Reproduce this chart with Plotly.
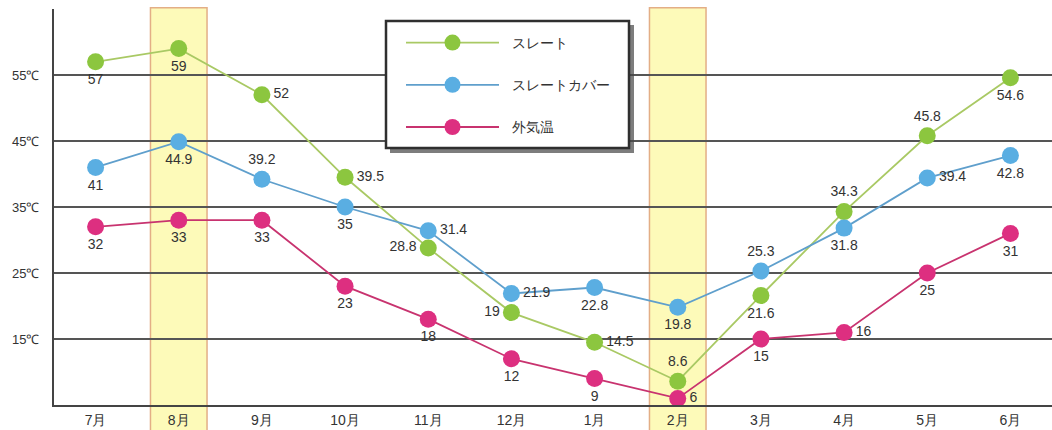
import plotly.graph_objects as go

months = ["7月", "8月", "9月", "10月", "11月", "12月", "1月", "2月", "3月", "4月", "5月", "6月"]
slate = [57, 59, 52, 39.5, 28.8, 19, 14.5, 8.6, 21.6, 34.3, 45.8, 54.6]
cover = [41, 44.9, 39.2, 35, 31.4, 21.9, 22.8, 19.8, 25.3, 31.8, 39.4, 42.8]
outside = [32, 33, 33, 23, 18, 12, 9, 6, 15, 16, 25, 31]
highlight = ["8月", "2月"]
ytick_vals = [15, 25, 35, 45, 55]
ytick_text = ["15℃", "25℃", "35℃", "45℃", "55℃"]

slate_pos = ["bottom center", "bottom center", "middle right", "middle right", "middle left",
             "middle left", "middle right", "top center", "bottom center", "top center",
             "top center", "bottom center"]
cover_pos = ["bottom center", "bottom center", "top center", "bottom center", "middle right",
             "middle right", "bottom center", "bottom center", "top center", "bottom center",
             "middle right", "bottom center"]
outside_pos = ["bottom center"] * 7 + ["middle right", "bottom center", "middle right",
                                        "bottom center", "bottom center"]

FONT = "Liberation Sans, Arial, sans-serif"
TXT = "#333333"

# plot-area geometry (pixels) used to place the legend frame
L, T, W, H = 54, 9, 998, 396


def px(xp):
    return (xp - L) / W


def py(yp):
    return (T + H - yp) / H


fig = go.Figure()

series = [
    ("スレート", slate, slate_pos, "#8cc63f", "#a9c964"),
    ("スレートカバー", cover, cover_pos, "#5aaee2", "#5f9fcc"),
    ("外気温", outside, outside_pos, "#dd2f80", "#c8336f"),
]
for i, (name, vals, pos, mcol, lcol) in enumerate(series):
    fig.add_trace(go.Scatter(
        x=months, y=vals, name="\u00a0\u00a0" + name, mode="lines+markers+text",
        text=[f"{v:g}" for v in vals], textposition=pos,
        textfont=dict(size=14, color=TXT, family=FONT),
        line=dict(color=lcol, width=1.8),
        marker=dict(size=17, color=mcol),
        legendgroup=f"g{i}",
    ))

for m in highlight:
    idx = months.index(m)
    fig.add_shape(type="rect", xref="x", yref="paper",
                  x0=idx - 0.34, x1=idx + 0.34, y0=-0.1, y1=1.003,
                  fillcolor="#fdfab9", line=dict(color="#e3ae86", width=1.5),
                  layer="below")

# legend frame with drop shadow
fig.add_shape(type="rect", xref="paper", yref="paper",
              x0=px(390), x1=px(634), y0=py(153), y1=py(25),
              fillcolor="rgba(70,70,70,0.7)", line=dict(width=0), layer="above")
fig.add_shape(type="rect", xref="paper", yref="paper",
              x0=px(386), x1=px(629), y0=py(148), y1=py(21),
              fillcolor="white", line=dict(color="#2f2f2f", width=2.5), layer="above")

fig.update_layout(
    width=1052, height=430,
    margin=dict(l=L, r=0, t=T, b=430 - T - H),
    paper_bgcolor="white", plot_bgcolor="rgba(0,0,0,0)",
    font=dict(family=FONT, color=TXT),
    showlegend=True,
    legend=dict(x=px(401), y=py(27), xanchor="left", yanchor="top",
                bgcolor="rgba(0,0,0,0)", borderwidth=0,
                font=dict(size=14, color=TXT, family=FONT),
                itemwidth=93, tracegroupgap=21, traceorder="grouped"),
    xaxis=dict(range=[-0.5, 11.5], showgrid=False, showline=True, linecolor="#444444",
               linewidth=2, ticks="", tickfont=dict(size=14, color=TXT, family=FONT),
               ticklabelstandoff=1),
    yaxis=dict(range=[5, 65], tickvals=ytick_vals, ticktext=ytick_text,
               showgrid=True, gridcolor="#555555", gridwidth=1.5, zeroline=False,
               showline=True, linecolor="#444444", linewidth=2, ticks="",
               tickfont=dict(size=13, color=TXT, family=FONT), ticklabelstandoff=10),
)

fig.write_html("out.html")
